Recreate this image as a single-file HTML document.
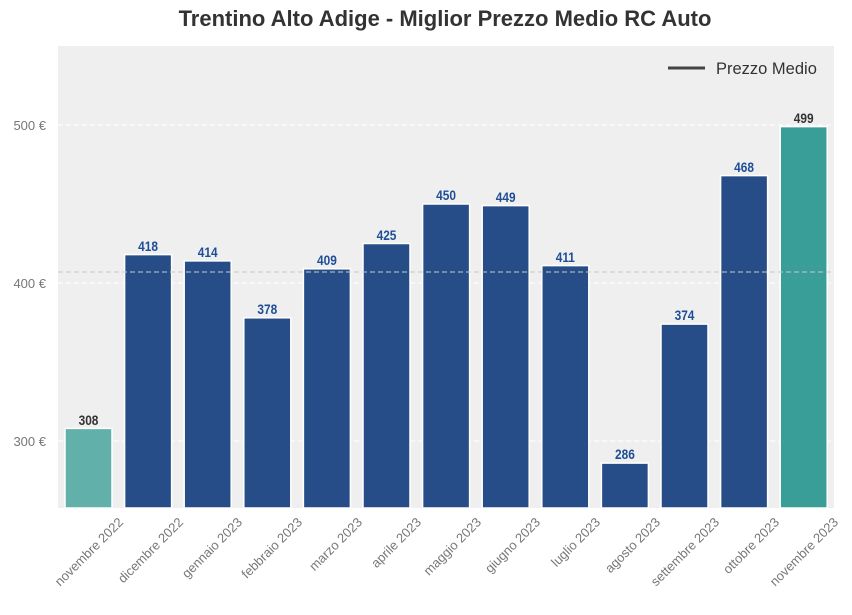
<!DOCTYPE html>
<html><head><meta charset="utf-8"><style>body{margin:0;background:#fff}</style></head><body>
<svg width="852" height="610" xmlns="http://www.w3.org/2000/svg" font-family="Liberation Sans, Arial, sans-serif">
<rect width="852" height="610" fill="#fff"/>
<text x="445" y="26" text-anchor="middle" font-size="22" font-weight="bold" fill="#333">Trentino Alto Adige - Miglior Prezzo Medio RC Auto</text>
<rect x="58" y="46" width="776" height="462" fill="#efefef"/>
<g stroke="#fff" stroke-dasharray="5,3" stroke-width="1">
<line x1="58" x2="834" y1="125" y2="125"/><line x1="58" x2="834" y1="283" y2="283"/><line x1="58" x2="834" y1="441" y2="441"/>
</g>
<g font-size="13" fill="#777" text-anchor="end">
<text x="46" y="130">500 €</text><text x="46" y="288">400 €</text><text x="46" y="446">300 €</text>
</g>
<g stroke="#fff" stroke-width="1.5">
<rect x="65" y="428.4" width="47" height="79.6" fill="#62b0aa"/>
<rect x="124.6" y="254.6" width="47" height="253.4" fill="#264d87"/>
<rect x="184.2" y="260.9" width="47" height="247.1" fill="#264d87"/>
<rect x="243.8" y="317.8" width="47" height="190.2" fill="#264d87"/>
<rect x="303.4" y="268.8" width="47" height="239.2" fill="#264d87"/>
<rect x="363" y="243.5" width="47" height="264.5" fill="#264d87"/>
<rect x="422.6" y="204" width="47" height="304" fill="#264d87"/>
<rect x="482.2" y="205.6" width="47" height="302.4" fill="#264d87"/>
<rect x="541.8" y="265.6" width="47" height="242.4" fill="#264d87"/>
<rect x="601.4" y="463.1" width="47" height="44.9" fill="#264d87"/>
<rect x="661" y="324.1" width="47" height="183.9" fill="#264d87"/>
<rect x="720.6" y="175.6" width="47" height="332.4" fill="#264d87"/>
<rect x="780.2" y="126.6" width="47" height="381.4" fill="#3a9e98"/>
</g>
<line x1="58" x2="834" y1="272" y2="272" stroke="#c8c8c8" stroke-dasharray="5,3" stroke-width="1"/>
<g font-size="14" font-weight="bold" text-anchor="middle" fill="#1f4e96">
<text transform="translate(88.5,425) scale(0.85,1)" fill="#333">308</text>
<text transform="translate(148.1,251) scale(0.85,1)">418</text>
<text transform="translate(207.7,257) scale(0.85,1)">414</text>
<text transform="translate(267.3,314) scale(0.85,1)">378</text>
<text transform="translate(326.9,265) scale(0.85,1)">409</text>
<text transform="translate(386.5,240) scale(0.85,1)">425</text>
<text transform="translate(446.1,200) scale(0.85,1)">450</text>
<text transform="translate(505.7,202) scale(0.85,1)">449</text>
<text transform="translate(565.3,262) scale(0.85,1)">411</text>
<text transform="translate(624.9,459) scale(0.85,1)">286</text>
<text transform="translate(684.5,320) scale(0.85,1)">374</text>
<text transform="translate(744.1,172) scale(0.85,1)">468</text>
<text transform="translate(803.7,123) scale(0.85,1)" fill="#333">499</text>
</g>
<g font-size="13" fill="#777" text-anchor="end">
<text transform="translate(124,523) rotate(-45)">novembre 2022</text>
<text transform="translate(184,523) rotate(-45)">dicembre 2022</text>
<text transform="translate(243,523) rotate(-45)">gennaio 2023</text>
<text transform="translate(303,523) rotate(-45)">febbraio 2023</text>
<text transform="translate(363,523) rotate(-45)">marzo 2023</text>
<text transform="translate(422,523) rotate(-45)">aprile 2023</text>
<text transform="translate(482,523) rotate(-45)">maggio 2023</text>
<text transform="translate(541,523) rotate(-45)">giugno 2023</text>
<text transform="translate(601,523) rotate(-45)">luglio 2023</text>
<text transform="translate(661,523) rotate(-45)">agosto 2023</text>
<text transform="translate(720,523) rotate(-45)">settembre 2023</text>
<text transform="translate(780,523) rotate(-45)">ottobre 2023</text>
<text transform="translate(839,523) rotate(-45)">novembre 2023</text>
</g>
<line x1="668" x2="705" y1="68" y2="68" stroke="#444" stroke-width="3"/>
<text x="716" y="74" font-size="16.5" fill="#333">Prezzo Medio</text>
</svg>
</body></html>
